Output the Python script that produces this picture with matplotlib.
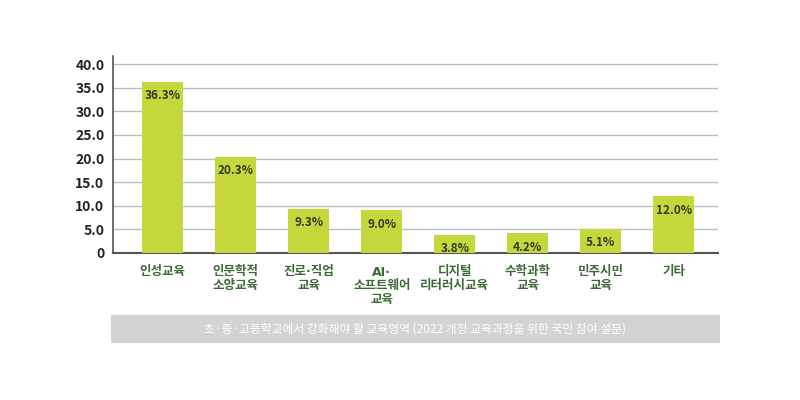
import matplotlib.pyplot as plt
from matplotlib.patches import Rectangle

plt.rcParams['font.family'] = ['Noto Sans CJK KR', 'DejaVu Sans']

# 데이터
categories = ['인성교육', '인문학적\n소양교육', '진로·직업\n교육', 'AI·\n소프트웨어\n교육',
              '디지털\n리터러시교육', '수학과학\n교육', '민주시민\n교육', '기타']
values = [36.3, 20.3, 9.3, 9.0, 3.8, 4.2, 5.1, 12.0]
yticks = [0, 5, 10, 15, 20, 25, 30, 35, 40]
ytick_labels = ['0', '5.0', '10.0', '15.0', '20.0', '25.0', '30.0', '35.0', '40.0']
caption = '초·중·고등학교에서 강화해야 할 교육영역 (2022 개정 교육과정을 위한 국민 참여 설문)'

bar_color = '#c4d83c'
grid_color = '#b4c2bb'
# 가운뎃점을 좁게 그리려고 DejaVu 먼저
dot_family = ['DejaVu Sans', 'Noto Sans CJK KR']

fig = plt.figure(figsize=(8, 4), dpi=100)
ax = fig.add_axes([0.141, 0.3675, 0.756, 0.4925])

x = range(len(categories))
bars = ax.bar(x, values, width=0.56, color=bar_color, zorder=3)

for b, v in zip(bars, values):
    ax.annotate(f'{v:.1f}%', (b.get_x() + b.get_width() / 2, v),
                xytext=(0, -10), textcoords='offset points',
                ha='center', va='center', fontsize=8.5, fontweight='bold',
                color='#2f3a22', zorder=4)

ax.set_xlim(-0.685, 7.6)
ax.set_ylim(0, 41.7)
ax.set_yticks(yticks)
ax.set_yticklabels(ytick_labels, fontsize=10, fontweight='bold', color='#222222')
ax.set_xticks(list(x))
ax.set_xticklabels(categories, fontsize=9, fontweight='bold', color='#3b6a35',
                   linespacing=1.05)
for lbl in ax.get_xticklabels():
    if '·' in lbl.get_text():
        lbl.set_family(dot_family)
ax.tick_params(axis='both', length=0)
ax.tick_params(axis='x', pad=9)
ax.tick_params(axis='y', pad=6)

for t in yticks[1:]:
    ax.axhline(t, color=grid_color, linewidth=1, zorder=1)

for s in ['top', 'right']:
    ax.spines[s].set_visible(False)
ax.spines['left'].set_color('#555555')
ax.spines['bottom'].set_color('#555555')
ax.spines['left'].set_linewidth(1.2)
ax.spines['bottom'].set_linewidth(1.5)

# 하단 캡션 박스
fig.patches.append(Rectangle((0.139, 0.1425), 0.761, 0.07, transform=fig.transFigure,
                             facecolor='#d3d3d3', edgecolor='none'))
fig.text(0.519, 0.1775, caption, ha='center', va='center', fontsize=8.5,
         color='white')

fig.savefig('out.png', dpi=100)
